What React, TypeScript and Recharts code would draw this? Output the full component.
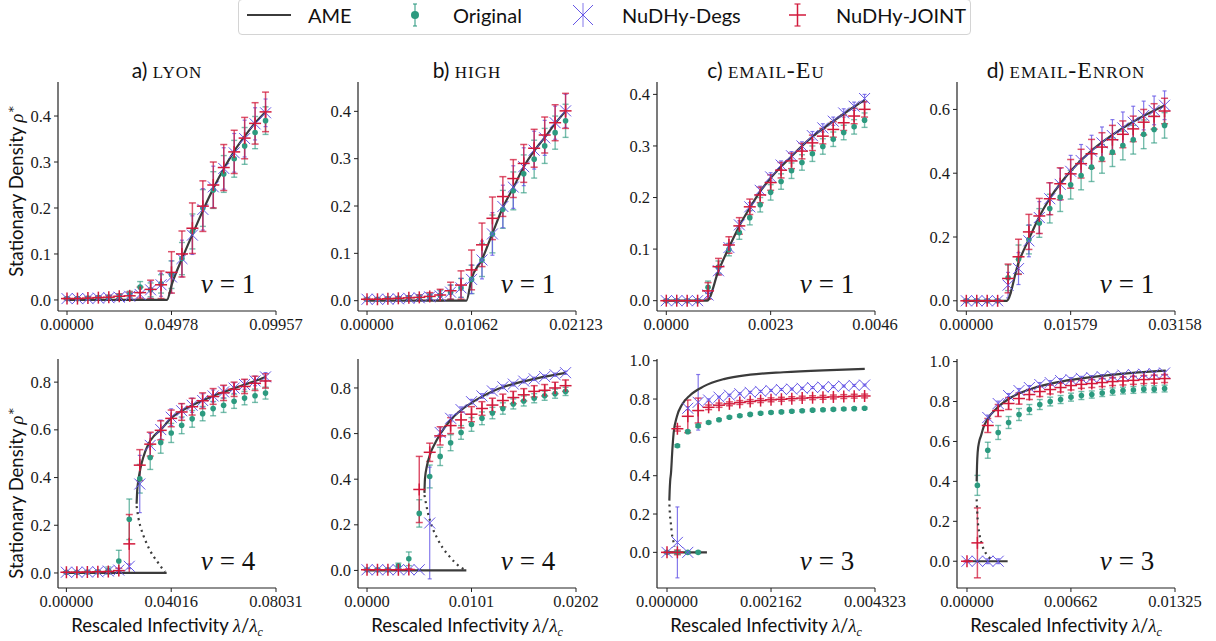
import React from 'react';
import { ComposedChart, Line, Scatter, ErrorBar, XAxis, YAxis } from 'recharts';

// ---- colours ----
const GREEN = '#2c9a7f';
const BLUE = '#6657e6';
const RED = '#d2193b';
const AME = '#3b3b3b';

// ---- a) lyon, nu = 1 ----
const xLyon1 = [0, 0.00498, 0.00996, 0.01494, 0.01991, 0.02489, 0.02987, 0.03485, 0.03983, 0.04481, 0.04978, 0.05476, 0.05974, 0.06472, 0.0697, 0.07468, 0.07966, 0.08463, 0.08961, 0.09459];
const origLyon1 = [0.003, 0.003, 0.004, 0.005, 0.006, 0.008, 0.012, 0.028, 0.022, 0.035, 0.055, 0.09, 0.149, 0.2, 0.239, 0.274, 0.307, 0.335, 0.364, 0.39];
const origErrLyon1 = [0.002, 0.002, 0.003, 0.003, 0.004, 0.005, 0.007, 0.012, 0.015, 0.02, 0.03, 0.035, 0.038, 0.04, 0.04, 0.04, 0.04, 0.04, 0.035, 0.03];
const degsLyon1 = [0.003, 0.003, 0.003, 0.004, 0.005, 0.006, 0.008, 0.012, 0.022, 0.033, 0.05, 0.09, 0.141, 0.197, 0.246, 0.286, 0.32, 0.351, 0.383, 0.407];
const degsErrLyon1 = [0.002, 0.002, 0.003, 0.003, 0.004, 0.005, 0.007, 0.012, 0.018, 0.025, 0.035, 0.04, 0.042, 0.045, 0.045, 0.045, 0.042, 0.04, 0.035, 0.03];
const jointLyon1 = [0.003, 0.003, 0.004, 0.005, 0.006, 0.008, 0.009, 0.016, 0.023, 0.033, 0.06, 0.1, 0.156, 0.204, 0.25, 0.288, 0.322, 0.352, 0.384, 0.409];
const jointErrLyon1 = [0.002, 0.002, 0.003, 0.003, 0.004, 0.005, 0.008, 0.012, 0.02, 0.03, 0.045, 0.05, 0.055, 0.055, 0.05, 0.05, 0.047, 0.045, 0.045, 0.043];
const ameXLyon1 = [0, 0.0476, 0.05, 0.055, 0.06, 0.065, 0.07, 0.075, 0.08, 0.085, 0.09, 0.0946];
const ameYLyon1 = [0, 0, 0.035, 0.092, 0.145, 0.197, 0.245, 0.288, 0.326, 0.358, 0.387, 0.409];

// ---- b) high, nu = 1 ----
const xHigh1 = [0, 0.00106, 0.00212, 0.00318, 0.00425, 0.00531, 0.00637, 0.00743, 0.00849, 0.00955, 0.01062, 0.01168, 0.01274, 0.0138, 0.01486, 0.01592, 0.01698, 0.01805, 0.01911, 0.02017];
const origHigh1 = [0.003, 0.003, 0.004, 0.005, 0.006, 0.007, 0.009, 0.012, 0.018, 0.027, 0.045, 0.086, 0.141, 0.193, 0.232, 0.268, 0.299, 0.327, 0.355, 0.38];
const origErrHigh1 = [0.002, 0.002, 0.003, 0.003, 0.004, 0.005, 0.006, 0.01, 0.015, 0.02, 0.03, 0.035, 0.04, 0.04, 0.04, 0.04, 0.04, 0.037, 0.035, 0.035];
const degsHigh1 = [0.003, 0.003, 0.003, 0.004, 0.005, 0.006, 0.008, 0.01, 0.018, 0.027, 0.045, 0.086, 0.141, 0.199, 0.24, 0.283, 0.318, 0.344, 0.376, 0.401];
const degsErrHigh1 = [0.002, 0.002, 0.003, 0.003, 0.004, 0.005, 0.006, 0.01, 0.015, 0.02, 0.03, 0.04, 0.045, 0.045, 0.045, 0.04, 0.04, 0.037, 0.035, 0.035];
const jointHigh1 = [0.003, 0.003, 0.004, 0.005, 0.006, 0.007, 0.009, 0.012, 0.021, 0.033, 0.065, 0.118, 0.174, 0.22, 0.258, 0.29, 0.322, 0.35, 0.376, 0.401];
const jointErrHigh1 = [0.002, 0.002, 0.003, 0.003, 0.004, 0.005, 0.008, 0.012, 0.018, 0.03, 0.042, 0.046, 0.045, 0.042, 0.04, 0.04, 0.04, 0.038, 0.038, 0.037];
const ameXHigh1 = [0, 0.0101, 0.0106, 0.0117, 0.0127, 0.0138, 0.0149, 0.0159, 0.017, 0.0181, 0.0191, 0.0202];
const ameYHigh1 = [0, 0, 0.045, 0.088, 0.14, 0.197, 0.24, 0.282, 0.317, 0.346, 0.374, 0.401];

// ---- c) email-Eu, nu = 1 ----
const xEu1 = [0, 0.00023, 0.00046, 0.00069, 0.00092, 0.00115, 0.00138, 0.00161, 0.00184, 0.00207, 0.0023, 0.00253, 0.00276, 0.00299, 0.00322, 0.00345, 0.00368, 0.00391, 0.00414, 0.00437];
const origEu1 = [0, 0, 0, 0, 0.026, 0.065, 0.099, 0.132, 0.161, 0.186, 0.21, 0.231, 0.252, 0.268, 0.285, 0.299, 0.313, 0.326, 0.337, 0.35];
const origErrEu1 = [0.001, 0.001, 0.001, 0.001, 0.012, 0.012, 0.012, 0.013, 0.014, 0.014, 0.015, 0.015, 0.015, 0.015, 0.015, 0.015, 0.014, 0.014, 0.014, 0.014];
const degsEu1 = [0, 0, 0, 0, 0.011, 0.058, 0.103, 0.147, 0.182, 0.214, 0.24, 0.263, 0.281, 0.3, 0.32, 0.335, 0.348, 0.364, 0.377, 0.392];
const degsErrEu1 = [0.001, 0.001, 0.001, 0.001, 0.006, 0.008, 0.008, 0.008, 0.008, 0.008, 0.008, 0.008, 0.008, 0.008, 0.008, 0.008, 0.008, 0.008, 0.008, 0.008];
const jointEu1 = [0, 0, 0, 0, 0.019, 0.066, 0.108, 0.145, 0.182, 0.205, 0.229, 0.253, 0.271, 0.29, 0.306, 0.319, 0.332, 0.345, 0.358, 0.371];
const jointErrEu1 = [0.001, 0.001, 0.001, 0.001, 0.016, 0.016, 0.016, 0.016, 0.015, 0.015, 0.015, 0.015, 0.015, 0.015, 0.015, 0.015, 0.015, 0.015, 0.015, 0.015];
const ameXEu1 = [0, 0.0009, 0.00115, 0.00138, 0.00161, 0.00184, 0.00207, 0.0023, 0.00276, 0.00322, 0.00368, 0.00414, 0.00437];
const ameYEu1 = [0, 0, 0.058, 0.103, 0.145, 0.18, 0.212, 0.238, 0.28, 0.318, 0.348, 0.376, 0.389];

// ---- d) email-Enron, nu = 1 ----
const xEnron1 = [0, 0.00158, 0.00316, 0.00474, 0.00632, 0.0079, 0.00947, 0.01105, 0.01263, 0.01421, 0.01579, 0.01737, 0.01895, 0.02053, 0.02211, 0.02369, 0.02526, 0.02684, 0.02842, 0.03];
const origEnron1 = [0, 0, 0, 0, 0.072, 0.13, 0.192, 0.244, 0.289, 0.325, 0.364, 0.393, 0.419, 0.445, 0.466, 0.487, 0.505, 0.522, 0.537, 0.55];
const origErrEnron1 = [0.002, 0.002, 0.002, 0.002, 0.04, 0.045, 0.045, 0.045, 0.045, 0.045, 0.045, 0.045, 0.045, 0.045, 0.045, 0.045, 0.045, 0.045, 0.042, 0.04];
const degsEnron1 = [0, 0, 0, 0, 0.049, 0.101, 0.188, 0.261, 0.32, 0.365, 0.406, 0.44, 0.469, 0.495, 0.518, 0.542, 0.56, 0.581, 0.597, 0.613];
const degsErrEnron1 = [0.002, 0.002, 0.002, 0.002, 0.04, 0.05, 0.05, 0.05, 0.05, 0.05, 0.05, 0.05, 0.05, 0.05, 0.05, 0.05, 0.05, 0.045, 0.045, 0.045];
const jointEnron1 = [0, 0, 0, 0, 0.07, 0.138, 0.216, 0.266, 0.32, 0.367, 0.398, 0.43, 0.461, 0.482, 0.505, 0.522, 0.539, 0.56, 0.578, 0.595];
const jointErrEnron1 = [0.002, 0.002, 0.002, 0.002, 0.045, 0.055, 0.055, 0.055, 0.05, 0.05, 0.045, 0.045, 0.045, 0.045, 0.045, 0.042, 0.04, 0.04, 0.04, 0.04];
const ameXEnron1 = [0, 0.0061, 0.0079, 0.0095, 0.011, 0.0126, 0.0142, 0.0158, 0.0189, 0.0221, 0.0253, 0.03];
const ameYEnron1 = [0, 0, 0.12, 0.195, 0.262, 0.32, 0.367, 0.407, 0.47, 0.52, 0.562, 0.612];

// ---- e) lyon, nu = 4 ----
const xLyon4 = [0, 0.00402, 0.00803, 0.01205, 0.01606, 0.02008, 0.02409, 0.02811, 0.03212, 0.03614, 0.04016, 0.04417, 0.04819, 0.0522, 0.05622, 0.06023, 0.06425, 0.06826, 0.07228, 0.07629];
const origLyon4 = [0.003, 0.003, 0.004, 0.005, 0.01, 0.05, 0.225, 0.395, 0.484, 0.547, 0.587, 0.619, 0.646, 0.668, 0.689, 0.703, 0.72, 0.733, 0.743, 0.754];
const origErrLyon4 = [0.002, 0.002, 0.003, 0.004, 0.015, 0.045, 0.085, 0.06, 0.05, 0.045, 0.04, 0.035, 0.035, 0.03, 0.03, 0.03, 0.03, 0.028, 0.028, 0.025];
const degsLyon4 = [0.003, 0.003, 0.004, 0.005, 0.008, 0.012, 0.028, 0.373, 0.535, 0.601, 0.653, 0.68, 0.703, 0.723, 0.742, 0.759, 0.775, 0.79, 0.805, 0.822];
const degsErrLyon4 = [0.002, 0.002, 0.003, 0.003, 0.004, 0.006, 0.01, 0.12, 0.05, 0.04, 0.035, 0.03, 0.03, 0.028, 0.025, 0.025, 0.022, 0.02, 0.02, 0.018];
const jointLyon4 = [0.003, 0.003, 0.004, 0.005, 0.006, 0.01, 0.122, 0.452, 0.54, 0.598, 0.648, 0.675, 0.697, 0.722, 0.74, 0.755, 0.77, 0.782, 0.795, 0.805];
const jointErrLyon4 = [0.002, 0.002, 0.003, 0.003, 0.004, 0.01, 0.123, 0.065, 0.05, 0.04, 0.035, 0.035, 0.035, 0.033, 0.033, 0.032, 0.03, 0.03, 0.03, 0.03];
const ameXLyon4 = [0.0269, 0.0271, 0.0276, 0.0284, 0.0296, 0.0314, 0.0336, 0.0361, 0.0402, 0.0442, 0.0482, 0.0522, 0.0562, 0.0603, 0.0643, 0.0683, 0.0723, 0.0763];
const ameYLyon4 = [0.29, 0.34, 0.39, 0.44, 0.49, 0.54, 0.575, 0.6, 0.65, 0.68, 0.703, 0.723, 0.742, 0.759, 0.775, 0.79, 0.805, 0.822];
const unstXLyon4 = [0.0269, 0.0276, 0.0285, 0.0294, 0.0305, 0.032, 0.0335, 0.035, 0.0365, 0.0378];
const unstYLyon4 = [0.28, 0.23, 0.19, 0.16, 0.13, 0.095, 0.068, 0.045, 0.022, 0.005];
const zeroXLyon4 = [0, 0.0384];

// ---- f) high, nu = 4 ----
const xHigh4 = [0, 0.00101, 0.00202, 0.00303, 0.00404, 0.00505, 0.00606, 0.00707, 0.00808, 0.00909, 0.0101, 0.01111, 0.01212, 0.01313, 0.01414, 0.01515, 0.01616, 0.01717, 0.01818, 0.01919];
const origHigh4 = [0.003, 0.003, 0.003, 0.02, 0.051, 0.25, 0.412, 0.5, 0.56, 0.605, 0.64, 0.667, 0.69, 0.71, 0.73, 0.743, 0.755, 0.766, 0.775, 0.785];
const origErrHigh4 = [0.002, 0.002, 0.003, 0.012, 0.03, 0.06, 0.05, 0.04, 0.035, 0.03, 0.03, 0.028, 0.025, 0.025, 0.022, 0.022, 0.02, 0.02, 0.02, 0.018];
const degsHigh4 = [0.003, 0.003, 0.003, 0.003, 0.003, 0.003, 0.208, 0.605, 0.667, 0.705, 0.74, 0.765, 0.787, 0.805, 0.817, 0.83, 0.84, 0.85, 0.858, 0.867];
const degsErrHigh4 = [0.002, 0.002, 0.002, 0.002, 0.002, 0.002, 0.245, 0.02, 0.015, 0.012, 0.01, 0.01, 0.01, 0.008, 0.008, 0.008, 0.007, 0.007, 0.007, 0.007];
const jointHigh4 = [0.003, 0.003, 0.003, 0.003, 0.004, 0.355, 0.518, 0.59, 0.635, 0.66, 0.685, 0.71, 0.725, 0.745, 0.758, 0.77, 0.785, 0.79, 0.8, 0.81];
const jointErrHigh4 = [0.002, 0.002, 0.002, 0.002, 0.003, 0.145, 0.04, 0.04, 0.035, 0.035, 0.033, 0.03, 0.03, 0.028, 0.027, 0.027, 0.025, 0.025, 0.025, 0.025];
const ameXHigh4 = [0.00555, 0.0056, 0.0058, 0.0061, 0.0066, 0.0071, 0.008, 0.009, 0.0101, 0.0111, 0.0121, 0.0131, 0.0141, 0.0152, 0.0162, 0.0172, 0.0182, 0.0192];
const ameYHigh4 = [0.34, 0.4, 0.46, 0.51, 0.56, 0.6, 0.655, 0.7, 0.735, 0.762, 0.785, 0.803, 0.817, 0.83, 0.84, 0.85, 0.858, 0.866];
const unstXHigh4 = [0.00555, 0.0059, 0.0063, 0.0068, 0.0073, 0.0079, 0.0085, 0.009, 0.0095];
const unstYHigh4 = [0.33, 0.25, 0.19, 0.14, 0.1, 0.065, 0.035, 0.015, 0.003];
const zeroXHigh4 = [0, 0.0096];

// ---- g) email-Eu, nu = 3 (upper and lower branches) ----
const xEu3 = [0, 0.000216, 0.000432, 0.000648, 0.000865, 0.001081, 0.001297, 0.001513, 0.001729, 0.001945, 0.002162, 0.002378, 0.002594, 0.00281, 0.003026, 0.003242, 0.003458, 0.003674, 0.003891, 0.004107];
const origEu3 = [null, 0.556, 0.63, 0.66, 0.678, 0.692, 0.705, 0.713, 0.72, 0.726, 0.73, 0.733, 0.736, 0.739, 0.742, 0.744, 0.746, 0.748, 0.75, 0.752];
const origLowEu3 = [0, 0, 0, 0, null, null, null, null, null, null, null, null, null, null, null, null, null, null, null, null];
const origErrEu3 = [0.002, 0.006, 0.006, 0.006, 0.005, 0.005, 0.005, 0.005, 0.005, 0.005, 0.005, 0.005, 0.005, 0.005, 0.005, 0.005, 0.005, 0.005, 0.005, 0.005];
const degsEu3 = [null, null, 0.752, 0.783, 0.795, 0.81, 0.82, 0.828, 0.835, 0.84, 0.845, 0.85, 0.852, 0.856, 0.86, 0.862, 0.865, 0.868, 0.871, 0.873];
const degsLowEu3 = [0, 0.052, 0, null, null, null, null, null, null, null, null, null, null, null, null, null, null, null, null, null];
const degsErrEu3 = [0.002, 0.006, 0.008, 0.145, 0.006, 0.005, 0.005, 0.005, 0.005, 0.005, 0.005, 0.005, 0.005, 0.005, 0.005, 0.005, 0.005, 0.005, 0.005, 0.005];
const degsLowErrEu3 = [0.002, 0.185, 0.002, 0, 0, 0, 0, 0, 0, 0, 0, 0, 0, 0, 0, 0, 0, 0, 0, 0];
const jointEu3 = [null, 0.645, 0.71, 0.74, 0.757, 0.768, 0.775, 0.782, 0.787, 0.792, 0.796, 0.799, 0.802, 0.805, 0.807, 0.809, 0.811, 0.813, 0.815, 0.816];
const jointLowEu3 = [0, 0, null, null, null, null, null, null, null, null, null, null, null, null, null, null, null, null, null, null];
const jointErrEu3 = [0.003, 0.012, 0.085, 0.065, 0.012, 0.011, 0.01, 0.01, 0.01, 0.01, 0.01, 0.01, 0.01, 0.01, 0.01, 0.01, 0.01, 0.01, 0.01, 0.01];
const ameXEu3 = [0.0000484, 0.000055, 0.000065, 0.000083, 0.00011, 0.000138, 0.000207, 0.00031, 0.00048, 0.00076, 0.00118, 0.00173, 0.00242, 0.00325, 0.00411];
const ameYEu3 = [0.27, 0.32, 0.37, 0.414, 0.53, 0.623, 0.71, 0.77, 0.82, 0.866, 0.904, 0.927, 0.94, 0.95, 0.957];
const unstXEu3 = [0.00005, 0.00006, 0.00008, 0.0001, 0.00013, 0.00016];
const unstYEu3 = [0.25, 0.2, 0.15, 0.1, 0.06, 0.03];
const zeroXEu3 = [0, 0.00083];

// ---- h) email-Enron, nu = 3 (upper and lower branches) ----
const xEnron3 = [0, 0.000663, 0.001325, 0.001988, 0.00265, 0.003313, 0.003975, 0.004638, 0.0053, 0.005963, 0.006625, 0.007288, 0.00795, 0.008613, 0.009275, 0.009938, 0.0106, 0.011263, 0.011925, 0.012588];
const origEnron3 = [null, 0.38, 0.556, 0.645, 0.695, 0.735, 0.76, 0.785, 0.8, 0.81, 0.822, 0.83, 0.835, 0.843, 0.85, 0.855, 0.858, 0.862, 0.862, 0.865];
const origErrEnron3 = [0.002, 0.05, 0.04, 0.035, 0.03, 0.03, 0.025, 0.025, 0.022, 0.02, 0.02, 0.02, 0.018, 0.018, 0.018, 0.017, 0.017, 0.017, 0.017, 0.017];
const degsEnron3 = [null, null, 0.72, 0.79, 0.83, 0.855, 0.87, 0.885, 0.895, 0.905, 0.91, 0.916, 0.92, 0.925, 0.928, 0.932, 0.935, 0.937, 0.94, 0.943];
const degsLowEnron3 = [0, 0, 0, 0, null, null, null, null, null, null, null, null, null, null, null, null, null, null, null, null];
const degsErrEnron3 = [0.002, 0.002, 0.012, 0.012, 0.01, 0.01, 0.01, 0.01, 0.01, 0.01, 0.01, 0.01, 0.01, 0.01, 0.01, 0.01, 0.01, 0.01, 0.01, 0.01];
const jointEnron3 = [null, null, 0.68, 0.755, 0.79, 0.815, 0.835, 0.85, 0.86, 0.87, 0.88, 0.886, 0.89, 0.895, 0.9, 0.903, 0.906, 0.91, 0.912, 0.915];
const jointLowEnron3 = [0, 0.092, null, null, null, null, null, null, null, null, null, null, null, null, null, null, null, null, null, null];
const jointErrEnron3 = [0.003, 0.175, 0.035, 0.03, 0.03, 0.028, 0.025, 0.025, 0.022, 0.022, 0.022, 0.02, 0.02, 0.02, 0.02, 0.02, 0.02, 0.02, 0.02, 0.02];
const ameXEnron3 = [0.000615, 0.00064, 0.00068, 0.00078, 0.00089, 0.00105, 0.00131, 0.00195, 0.0028, 0.00407, 0.006, 0.0083, 0.0109, 0.01266];
const ameYEnron3 = [0.4, 0.48, 0.545, 0.6, 0.628, 0.67, 0.712, 0.77, 0.82, 0.863, 0.9, 0.926, 0.946, 0.955];
const unstXEnron3 = [0.000615, 0.00068, 0.00078, 0.00092, 0.00113, 0.00134, 0.0016];
const unstYEnron3 = [0.31, 0.21, 0.142, 0.092, 0.05, 0.025, 0.008];
const zeroXEnron3 = [0, 0.00259];

// ---- axes ----
const xTickLabels = [
  ['0.00000', '0.04978', '0.09957'],
  ['0.00000', '0.01062', '0.02123'],
  ['0.0000', '0.0023', '0.0046'],
  ['0.00000', '0.01579', '0.03158'],
  ['0.00000', '0.04016', '0.08031'],
  ['0.0000', '0.0101', '0.0202'],
  ['0.000000', '0.002162', '0.004323'],
  ['0.00000', '0.00662', '0.01325'],
];
const yTicksSmall = [0, 0.1, 0.2, 0.3, 0.4];
const yTicksMid = [0, 0.2, 0.4, 0.6];
const yTicksBig = [0, 0.2, 0.4, 0.6, 0.8];
const yTicksFull = [0, 0.2, 0.4, 0.6, 0.8, 1.0];

type Pt = { x: number; y: number; e: number };
type XY = { x: number; y: number };

function pts(xs: number[], ys: (number | null)[], es: number[]): Pt[] {
  const out: Pt[] = [];
  ys.forEach((y, i) => {
    if (y !== null) out.push({ x: xs[i], y, e: es[i] });
  });
  return out;
}
const curve = (xs: number[], ys: number[]): XY[] => xs.map((x, i) => ({ x, y: ys[i] }));
const flat = (xs: number[]): XY[] => xs.map((x) => ({ x, y: 0 }));

interface PanelSpec {
  col: number;
  row: number;
  nu: string;
  xDomain: [number, number];
  xTicks: number[];
  xLabels: string[];
  yDomain: [number, number];
  yTicks: number[];
  orig: Pt[];
  degs: Pt[];
  joint: Pt[];
  stable: XY[];
  unstable?: XY[];
  zero?: XY[];
}

const panels: PanelSpec[] = [
  {
    col: 0, row: 0, nu: '1', xDomain: [-0.00429, 0.09957], xTicks: [0, 0.04978, 0.09957], xLabels: xTickLabels[0],
    yDomain: [-0.024, 0.474], yTicks: yTicksSmall,
    orig: pts(xLyon1, origLyon1, origErrLyon1), degs: pts(xLyon1, degsLyon1, degsErrLyon1), joint: pts(xLyon1, jointLyon1, jointErrLyon1),
    stable: curve(ameXLyon1, ameYLyon1),
  },
  {
    col: 1, row: 0, nu: '1', xDomain: [-0.000916, 0.02123], xTicks: [0, 0.01062, 0.02123], xLabels: xTickLabels[1],
    yDomain: [-0.0218, 0.462], yTicks: yTicksSmall,
    orig: pts(xHigh1, origHigh1, origErrHigh1), degs: pts(xHigh1, degsHigh1, degsErrHigh1), joint: pts(xHigh1, jointHigh1, jointErrHigh1),
    stable: curve(ameXHigh1, ameYHigh1),
  },
  {
    col: 2, row: 0, nu: '1', xDomain: [-0.000205, 0.0046], xTicks: [0, 0.0023, 0.0046], xLabels: xTickLabels[2],
    yDomain: [-0.02, 0.424], yTicks: yTicksSmall,
    orig: pts(xEu1, origEu1, origErrEu1), degs: pts(xEu1, degsEu1, degsErrEu1), joint: pts(xEu1, jointEu1, jointErrEu1),
    stable: curve(ameXEu1, ameYEu1),
  },
  {
    col: 3, row: 0, nu: '1', xDomain: [-0.00141, 0.03158], xTicks: [0, 0.01579, 0.03158], xLabels: xTickLabels[3],
    yDomain: [-0.032, 0.686], yTicks: yTicksMid,
    orig: pts(xEnron1, origEnron1, origErrEnron1), degs: pts(xEnron1, degsEnron1, degsErrEnron1), joint: pts(xEnron1, jointEnron1, jointErrEnron1),
    stable: curve(ameXEnron1, ameYEnron1),
  },
  {
    col: 0, row: 1, nu: '4', xDomain: [-0.00322, 0.08031], xTicks: [0, 0.04016, 0.08031], xLabels: xTickLabels[4],
    yDomain: [-0.063, 0.897], yTicks: yTicksBig,
    orig: pts(xLyon4, origLyon4, origErrLyon4), degs: pts(xLyon4, degsLyon4, degsErrLyon4), joint: pts(xLyon4, jointLyon4, jointErrLyon4),
    stable: curve(ameXLyon4, ameYLyon4), unstable: curve(unstXLyon4, unstYLyon4), zero: flat(zeroXLyon4),
  },
  {
    col: 1, row: 1, nu: '4', xDomain: [-0.000872, 0.0202], xTicks: [0, 0.0101, 0.0202], xLabels: xTickLabels[5],
    yDomain: [-0.077, 0.927], yTicks: yTicksBig,
    orig: pts(xHigh4, origHigh4, origErrHigh4), degs: pts(xHigh4, degsHigh4, degsErrHigh4), joint: pts(xHigh4, jointHigh4, jointErrHigh4),
    stable: curve(ameXHigh4, ameYHigh4), unstable: curve(unstXHigh4, unstYHigh4), zero: flat(zeroXHigh4),
  },
  {
    col: 2, row: 1, nu: '3', xDomain: [-0.000208, 0.004323], xTicks: [0, 0.002162, 0.004323], xLabels: xTickLabels[6],
    yDomain: [-0.186, 1.009], yTicks: yTicksFull,
    orig: pts(xEu3, origEu3, origErrEu3).concat(pts(xEu3, origLowEu3, origErrEu3)),
    degs: pts(xEu3, degsEu3, degsErrEu3).concat(pts(xEu3, degsLowEu3, degsLowErrEu3)),
    joint: pts(xEu3, jointEu3, jointErrEu3).concat(pts(xEu3, jointLowEu3, jointErrEu3)),
    stable: curve(ameXEu3, ameYEu3), unstable: curve(unstXEu3, unstYEu3), zero: flat(zeroXEu3),
  },
  {
    col: 3, row: 1, nu: '3', xDomain: [-0.000636, 0.01325], xTicks: [0, 0.00662, 0.01325], xLabels: xTickLabels[7],
    yDomain: [-0.134, 1.013], yTicks: yTicksFull,
    orig: pts(xEnron3, origEnron3, origErrEnron3),
    degs: pts(xEnron3, degsEnron3, degsErrEnron3).concat(pts(xEnron3, degsLowEnron3, degsErrEnron3)),
    joint: pts(xEnron3, jointEnron3, jointErrEnron3).concat(pts(xEnron3, jointLowEnron3, jointErrEnron3)),
    stable: curve(ameXEnron3, ameYEnron3), unstable: curve(unstXEnron3, unstYEnron3), zero: flat(zeroXEnron3),
  },
];

const titles = [
  { pre: 'a) ', name: 'lyon' },
  { pre: 'b) ', name: 'high' },
  { pre: 'c) ', name: 'email-Eu' },
  { pre: 'd) ', name: 'email-Enron' },
];

// ---- layout ----
const COLS = [58, 358, 657, 957];
const ROWS = [82, 359];
const YLABEL_Y = [191, 493];
const PW = 218;
const PH = 229;
const YW = 50;
const XH = 30;
const MT = 14;
const MR = 45;

const SANS = 'Lato, "Open Sans", sans-serif';
const SERIF = '"Liberation Serif", "DejaVu Serif", serif';

const Dot = (p: any) => <circle cx={p.cx} cy={p.cy} r={2.8} fill={GREEN} />;
const Cross = (p: any) => {
  const s = 5.5;
  return (
    <g stroke={BLUE} strokeWidth={1}>
      <line x1={p.cx - s} y1={p.cy - s} x2={p.cx + s} y2={p.cy + s} />
      <line x1={p.cx - s} y1={p.cy + s} x2={p.cx + s} y2={p.cy - s} />
    </g>
  );
};
const Plus = (p: any) => {
  const s = 6;
  return (
    <g stroke={RED} strokeWidth={1.5}>
      <line x1={p.cx - s} y1={p.cy} x2={p.cx + s} y2={p.cy} />
      <line x1={p.cx} y1={p.cy - s} x2={p.cx} y2={p.cy + s} />
    </g>
  );
};

const makeXTick = (labels: string[]) => (p: any) => (
  <text x={p.x} y={p.y} dy="0.75em" textAnchor="middle" fontFamily={SERIF} fontSize={16.5} fill="#1a1a1a">
    {labels[p.index] ?? ''}
  </text>
);
const YTick = (p: any) => (
  <text x={p.x} y={p.y} dy="0.34em" textAnchor="end" fontFamily={SERIF} fontSize={16.5} fill="#1a1a1a">
    {Number(p.payload.value).toFixed(1)}
  </text>
);

function Panel({ spec }: { spec: PanelSpec }) {
  const L = COLS[spec.col];
  const T = ROWS[spec.row];
  return (
    <div style={{ position: 'absolute', left: L - YW, top: T - MT }}>
      <ComposedChart width={YW + PW + MR} height={MT + PH + XH} margin={{ top: MT, right: MR, left: 0, bottom: 0 }}>
        <XAxis
          type="number"
          dataKey="x"
          domain={spec.xDomain}
          ticks={spec.xTicks}
          allowDataOverflow
          interval={0}
          height={XH}
          tick={makeXTick(spec.xLabels)}
          tickSize={4}
          tickMargin={3}
          axisLine={{ stroke: '#222', strokeWidth: 1.2 }}
          tickLine={{ stroke: '#222' }}
        />
        <YAxis
          type="number"
          dataKey="y"
          domain={spec.yDomain}
          ticks={spec.yTicks}
          allowDataOverflow
          interval={0}
          width={YW}
          tick={YTick}
          tickSize={4}
          tickMargin={3}
          axisLine={{ stroke: '#222', strokeWidth: 1.2 }}
          tickLine={{ stroke: '#222' }}
        />
        <Scatter data={spec.orig} dataKey="y" shape={Dot} isAnimationActive={false}>
          <ErrorBar dataKey="e" direction="y" width={3} stroke={GREEN} strokeOpacity={0.65} strokeWidth={1.4} />
        </Scatter>
        <Scatter data={spec.degs} dataKey="y" shape={Cross} isAnimationActive={false}>
          <ErrorBar dataKey="e" direction="y" width={2} stroke={BLUE} strokeOpacity={0.8} strokeWidth={1.2} />
        </Scatter>
        <Scatter data={spec.joint} dataKey="y" shape={Plus} isAnimationActive={false}>
          <ErrorBar dataKey="e" direction="y" width={3.5} stroke={RED} strokeOpacity={0.75} strokeWidth={1.5} />
        </Scatter>
        {spec.zero && (
          <Line data={spec.zero} dataKey="y" type="linear" stroke={AME} strokeWidth={2.2} dot={false} activeDot={false} isAnimationActive={false} />
        )}
        {spec.unstable && (
          <Line data={spec.unstable} dataKey="y" type="monotone" stroke={AME} strokeWidth={2.2} strokeDasharray="2 4" dot={false} activeDot={false} isAnimationActive={false} />
        )}
        <Line data={spec.stable} dataKey="y" type="monotone" stroke={AME} strokeWidth={2.2} dot={false} activeDot={false} isAnimationActive={false} />
      </ComposedChart>
    </div>
  );
}

function Legend() {
  return (
    <div
      style={{
        position: 'absolute', left: 238, top: -1, width: 733, height: 36, boxSizing: 'border-box',
        border: '1px solid #d4d4d4', borderRadius: 4, background: '#fff',
      }}
    >
      <svg width={733} height={36} style={{ position: 'absolute', left: -1, top: -1 }}>
        <line x1={9} y1={16} x2={53} y2={16} stroke={AME} strokeWidth={2.2} />
        <text x={70} y={24} fontFamily={SANS} fontSize={20} fill="#111">AME</text>
        <g stroke={GREEN} strokeWidth={1.3} strokeOpacity={0.8}>
          <line x1={177} y1={5} x2={177} y2={27} />
          <line x1={175} y1={5} x2={179} y2={5} />
          <line x1={175} y1={27} x2={179} y2={27} />
        </g>
        <circle cx={177} cy={16} r={4} fill={GREEN} />
        <text x={215} y={24} fontFamily={SANS} fontSize={20} fill="#111">Original</text>
        <g stroke={BLUE} strokeWidth={1}>
          <line x1={335} y1={6} x2={355} y2={26} />
          <line x1={335} y1={26} x2={355} y2={6} />
          <line x1={345} y1={4} x2={345} y2={28} strokeOpacity={0.8} />
        </g>
        <text x={384} y={24} fontFamily={SANS} fontSize={20} fill="#111">NuDHy-Degs</text>
        <g stroke={RED} strokeWidth={1.5}>
          <line x1={551} y1={16} x2={568} y2={16} />
          <line x1={559.5} y1={5} x2={559.5} y2={27} />
          <line x1={556.5} y1={5} x2={562.5} y2={5} strokeOpacity={0.75} />
          <line x1={556.5} y1={27} x2={562.5} y2={27} strokeOpacity={0.75} />
        </g>
        <text x={598} y={24} fontFamily={SANS} fontSize={20} fill="#111">NuDHy-JOINT</text>
      </svg>
    </div>
  );
}

export default function App() {
  return (
    <div style={{ position: 'absolute', left: 0, top: 0, width: 1216, height: 641, background: '#fff', overflow: 'hidden' }}>
      <Legend />
      {panels.map((p, k) => (
        <Panel key={k} spec={p} />
      ))}
      {titles.map((t, k) => (
        <div
          key={k}
          style={{
            position: 'absolute', left: COLS[k] - 40, width: PW + 80, top: 55, height: 30, lineHeight: '30px',
            textAlign: 'center', color: '#111', whiteSpace: 'nowrap',
          }}
        >
          <span style={{ fontFamily: SANS, fontSize: 21 }}>{t.pre}</span>
          <span style={{ fontFamily: SERIF, fontSize: 24, fontVariant: 'small-caps', letterSpacing: 1 }}>{t.name}</span>
        </div>
      ))}
      {panels.map((p, k) => (
        <div
          key={'nu' + k}
          style={{
            position: 'absolute', left: COLS[p.col] + PW - 48, top: ROWS[p.row] + PH - 27,
            transform: 'translate(-50%, -50%)', fontFamily: SERIF, fontSize: 27, color: '#111', whiteSpace: 'nowrap',
          }}
        >
          <span style={{ fontStyle: 'italic' }}>ν</span>
          <span style={{ marginLeft: 7 }}>=</span>
          <span style={{ marginLeft: 7 }}>{p.nu}</span>
        </div>
      ))}
      {YLABEL_Y.map((cy, k) => (
        <div
          key={'yl' + k}
          style={{
            position: 'absolute', left: 16, top: cy, transform: 'translate(-50%, -50%) rotate(-90deg)',
            fontFamily: SANS, fontSize: 18.5, color: '#111', whiteSpace: 'nowrap',
          }}
        >
          Stationary Density <span style={{ fontFamily: SERIF, fontStyle: 'italic' }}>ρ</span>
          <sup style={{ fontFamily: SERIF, fontSize: 12 }}>∗</sup>
        </div>
      ))}
      {COLS.map((L, k) => (
        <div
          key={'xl' + k}
          style={{
            position: 'absolute', left: L + PW / 2, top: 627, transform: 'translate(-50%, -50%)',
            fontFamily: SANS, fontSize: 18.5, color: '#111', whiteSpace: 'nowrap',
          }}
        >
          Rescaled Infectivity <span style={{ fontFamily: SERIF, fontStyle: 'italic' }}>λ</span>/
          <span style={{ fontFamily: SERIF, fontStyle: 'italic' }}>λ</span>
          <sub style={{ fontFamily: SERIF, fontStyle: 'italic', fontSize: 12 }}>c</sub>
        </div>
      ))}
    </div>
  );
}
